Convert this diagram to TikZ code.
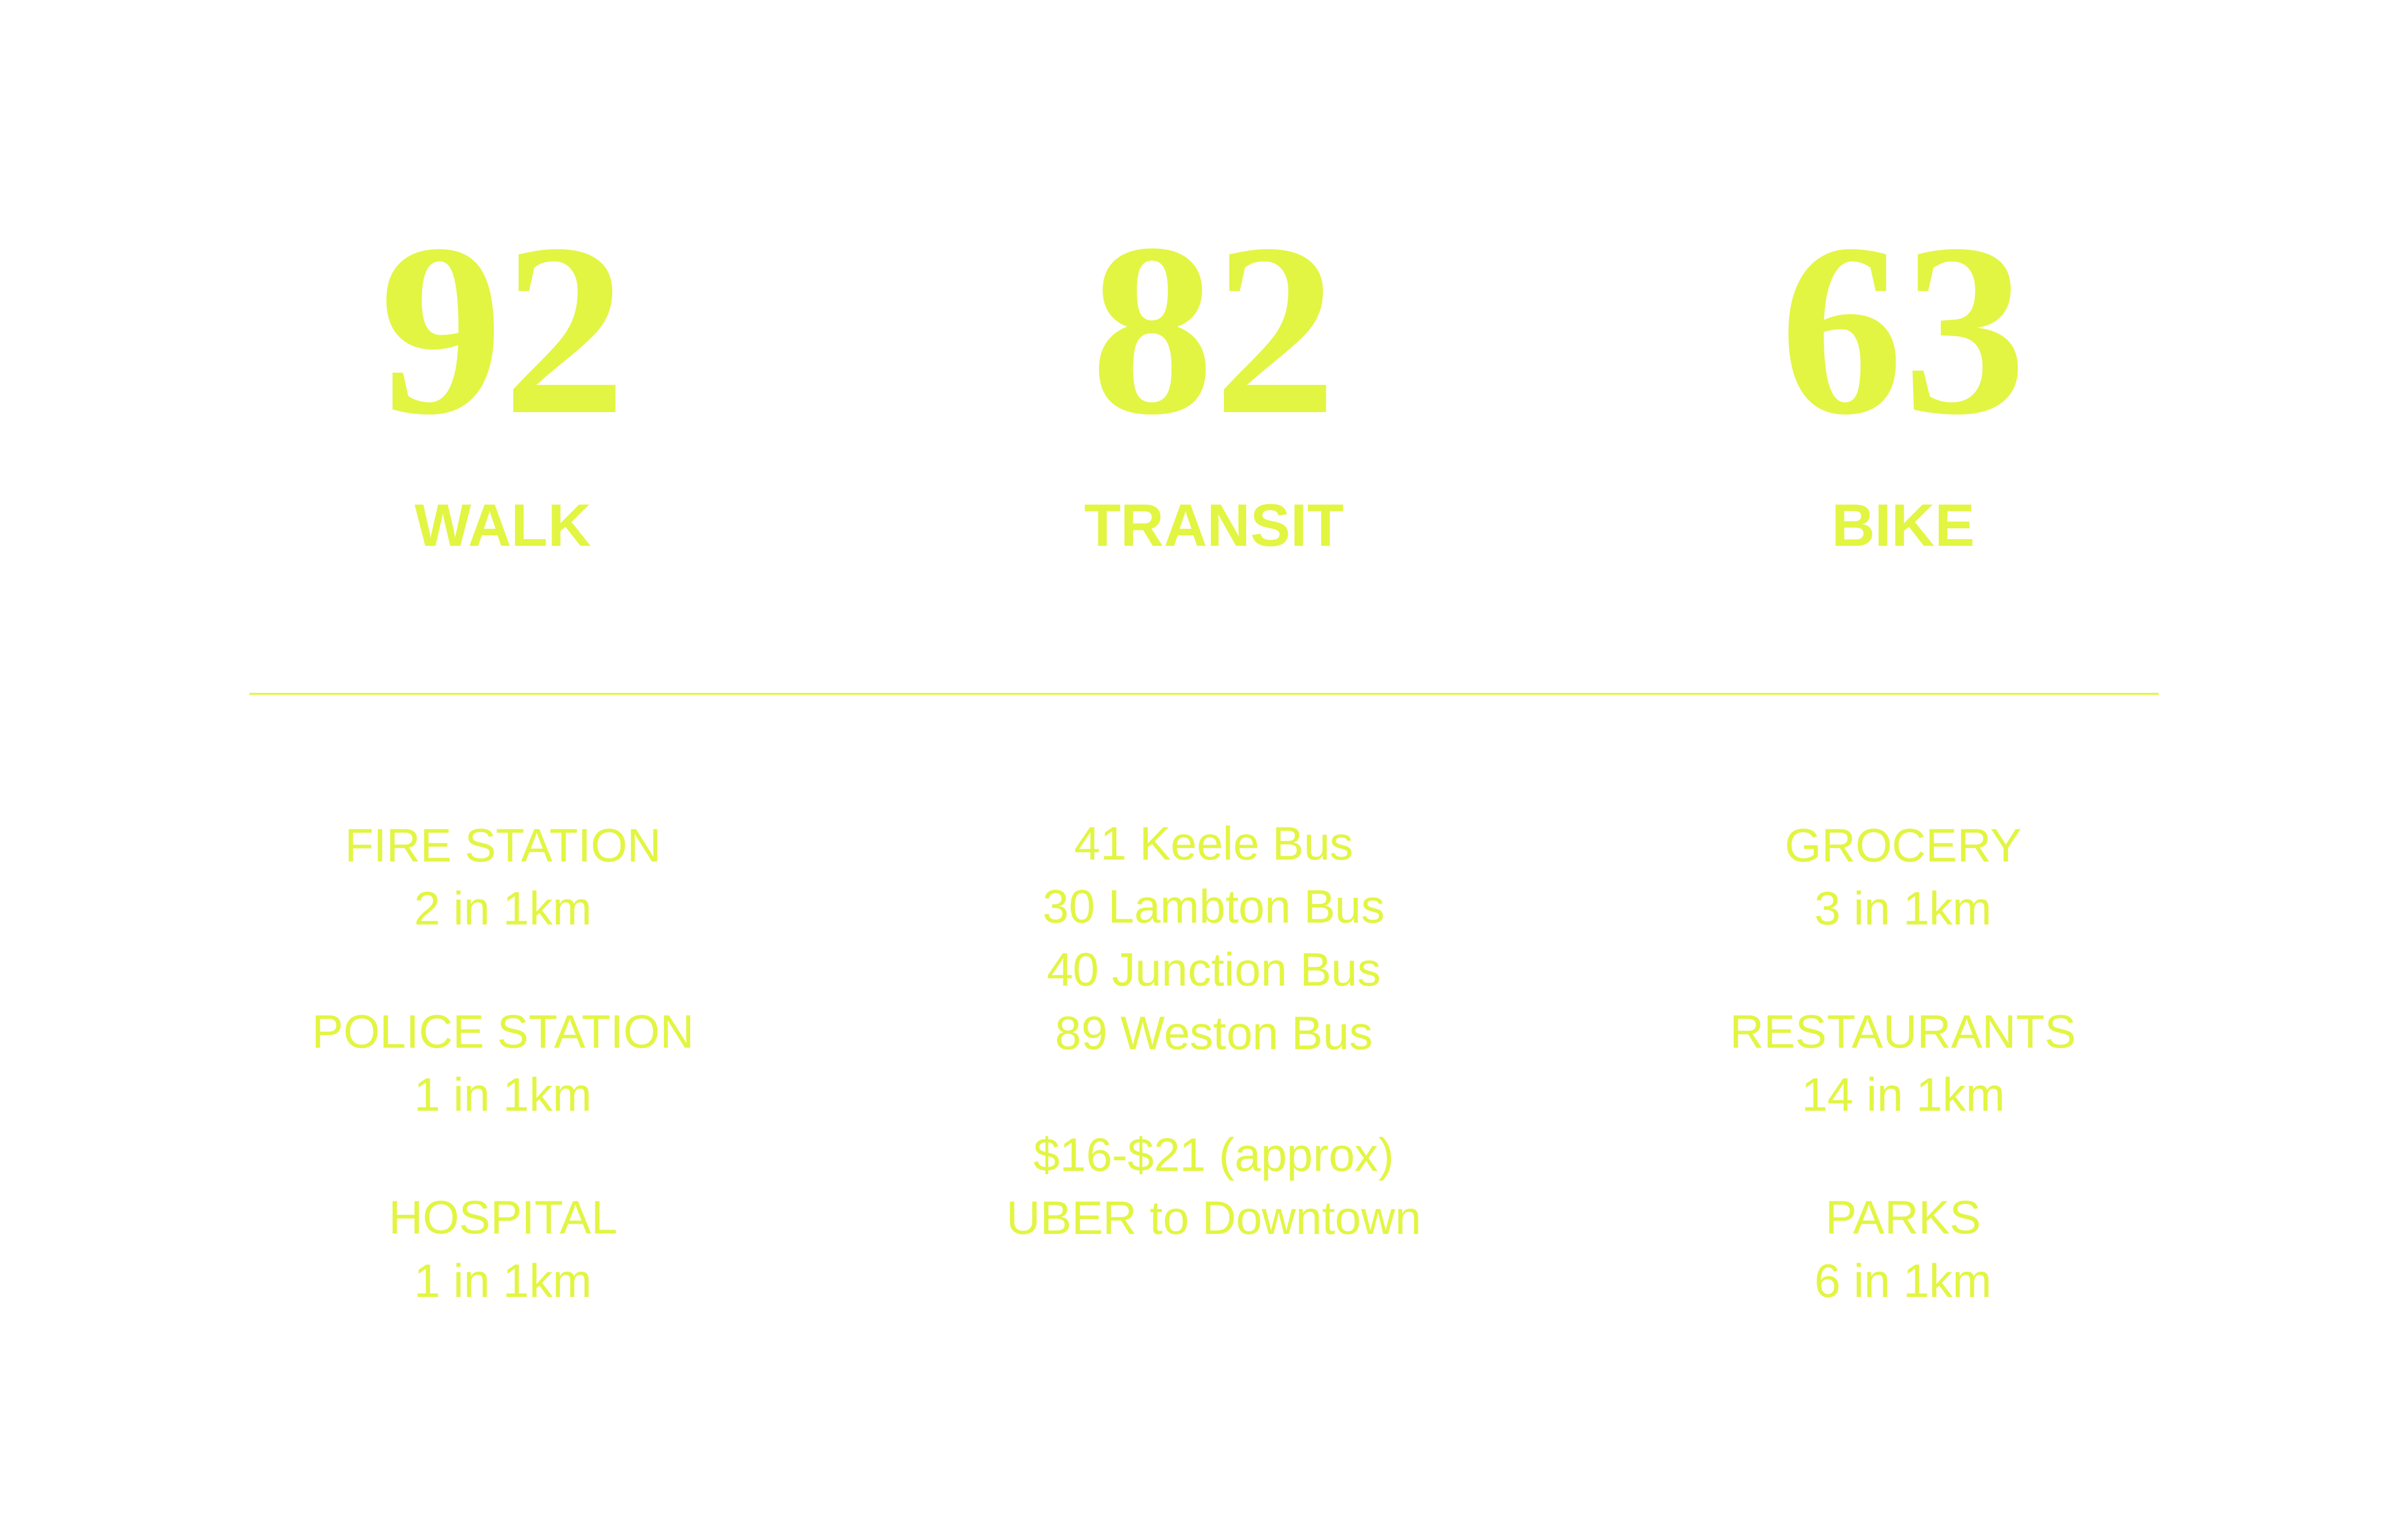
\documentclass[tikz,border=0pt]{standalone}
\usepackage{fontspec}
\setmainfont{Liberation Sans}
\newfontfamily\numfont{Liberation Serif}
\definecolor{lime}{HTML}{E2F542}
\begin{document}
\begin{tikzpicture}[x=0.0334cm,y=-0.0334cm,
  big/.style={text=lime,font=\numfont\bfseries\fontsize{152}{152}\selectfont,anchor=base},
  head/.style={text=lime,font=\bfseries\fontsize{37}{37}\selectfont,anchor=base},
  info/.style={text=lime,font=\fontsize{29}{39}\selectfont,align=center,anchor=north}]
\useasboundingbox[fill=white] (0,0) rectangle (1552,1001);
\node[big] (n1) at (327,268) {92};
\node[big] (n2) at (789,268) {82};
\node[big] (n3) at (1237,268) {63};
\node[head] (h1) at (327,355) {WALK};
\node[head] (h2) at (789,355) {TRANSIT};
\node[head] (h3) at (1237,355) {BIKE};
\coordinate (la) at (162,451);
\coordinate (lb) at (1403,451);
\draw[lime,line width=0.05cm] (la) -- (lb);
\node[info] (w1) at (327,535) {FIRE STATION\\2 in 1km};
\node[info] (w2) at (327,656) {POLICE STATION\\1 in 1km};
\node[info] (w3) at (327,777) {HOSPITAL\\1 in 1km};
\node[info] (t1) at (789,533) {41 Keele Bus\\30 Lambton Bus\\40 Junction Bus\\89 Weston Bus};
\node[info] (t2) at (789,735) {\$16-\$21 (approx)\\UBER to Downtown};
\node[info] (b1) at (1237,535) {GROCERY\\3 in 1km};
\node[info] (b2) at (1237,656) {RESTAURANTS\\14 in 1km};
\node[info] (b3) at (1237,777) {PARKS\\6 in 1km};
\end{tikzpicture}
\end{document}
